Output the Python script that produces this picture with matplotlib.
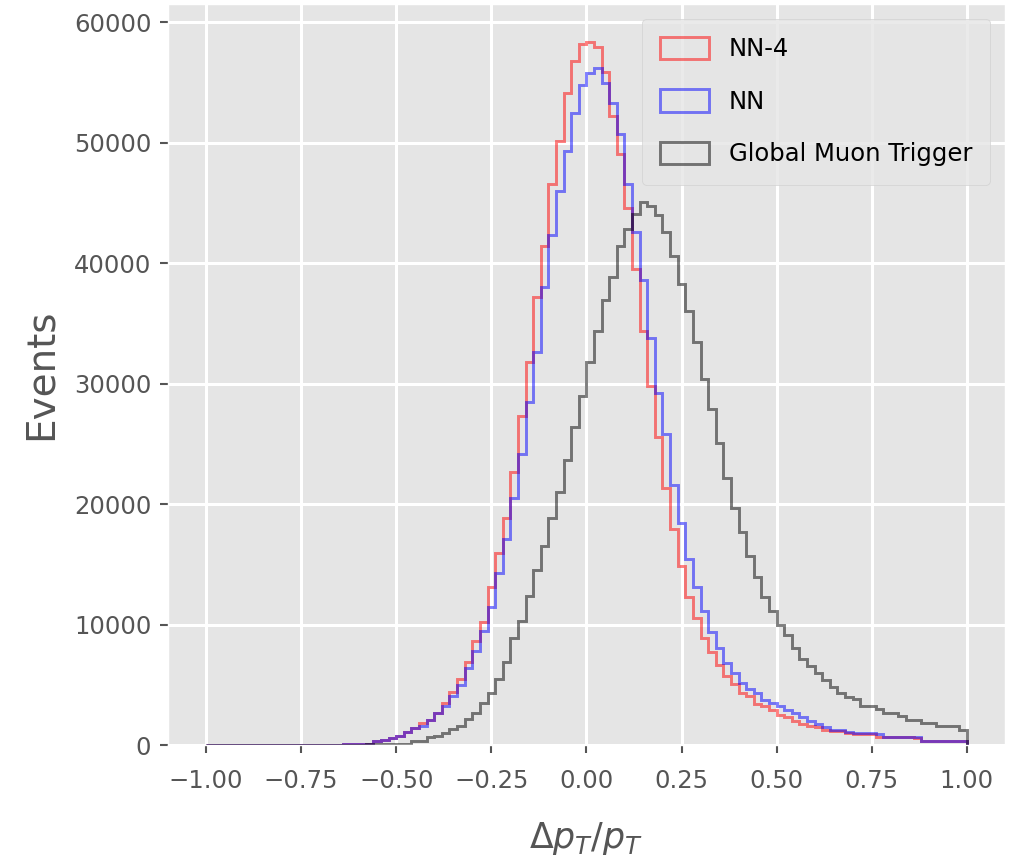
import numpy as np
import matplotlib
matplotlib.use("Agg")
import matplotlib.pyplot as plt

plt.style.use("ggplot")

# Bin edges of the histograms (100 bins from -1 to 1)
bin_lo, bin_hi, n_bins = -1.0, 1.0, 100

# Bin counts (bins 0..99)
nn4_counts = [
    0, 0, 0, 0, 0, 0, 0, 0, 0, 0,
    0, 0, 0, 0, 0, 0, 0, 40, 50, 60,
    80, 100, 330, 380, 620, 760, 1100, 1450, 1850, 2070,
    2630, 3510, 4430, 5450, 6920, 8630, 10250, 13120, 15920, 18870,
    22680, 27280, 31760, 37180, 41420, 46530, 50170, 54150, 56750, 58180,
    58330, 57960, 55870, 52220, 49050, 44600, 39480, 34340, 29800, 25600,
    21360, 17930, 14840, 12270, 10550, 8860, 7730, 6640, 5750, 5100,
    4320, 4030, 3440, 3250, 2920, 2530, 2300, 1990, 1740, 1550,
    1500, 1250, 1200, 1180, 970, 920, 910, 900, 690, 650,
    640, 640, 630, 620, 350, 350, 350, 350, 350, 350,
]
nn_counts = [
    0, 0, 0, 0, 0, 0, 0, 0, 0, 0,
    0, 0, 0, 0, 0, 0, 0, 40, 50, 60,
    80, 100, 330, 380, 620, 760, 1100, 1450, 1560, 2070,
    2630, 3240, 4070, 4980, 6370, 7830, 9500, 11440, 14280, 17090,
    20500, 24170, 28440, 32620, 38030, 42320, 45990, 49320, 52460, 54770,
    55810, 56170, 54980, 53290, 50740, 46550, 42570, 38590, 33770, 29230,
    25850, 21620, 18450, 15400, 13100, 11090, 9390, 8030, 6790, 5980,
    5150, 4620, 4320, 3760, 3450, 3200, 2920, 2630, 2350, 2020,
    1740, 1520, 1250, 1250, 1100, 970, 970, 970, 910, 640,
    640, 640, 640, 640, 350, 350, 350, 350, 350, 350,
]
gmt_counts = [
    0, 0, 0, 0, 0, 0, 0, 0, 0, 0,
    0, 0, 0, 0, 0, 0, 0, 0, 0, 0,
    40, 50, 60, 70, 80, 100, 120, 330, 360, 690,
    720, 970, 1300, 1580, 2130, 2680, 3450, 4350, 5510, 6880,
    8860, 10260, 12330, 14490, 16480, 18830, 21010, 23630, 26430, 28950,
    31780, 34330, 36900, 38860, 41410, 42830, 44040, 45050, 44770, 43950,
    42560, 40580, 38280, 36050, 33470, 30390, 27850, 25030, 22190, 19660,
    17650, 15680, 13950, 12290, 11120, 10000, 9150, 8020, 7110, 6580,
    6000, 5390, 4840, 4340, 4010, 3790, 3240, 3240, 2990, 2630,
    2630, 2410, 2070, 2070, 1800, 1800, 1580, 1580, 1580, 1250,
]

series_labels = ["NN-4", "NN", "Global Muon Trigger"]
series_colors = ["red", "blue", "black"]
x_ticks = [-1.00, -0.75, -0.50, -0.25, 0.00, 0.25, 0.50, 0.75, 1.00]
y_ticks = [0, 10000, 20000, 30000, 40000, 50000, 60000]

edges = np.linspace(bin_lo, bin_hi, n_bins + 1)
centers = 0.5 * (edges[:-1] + edges[1:])

fig = plt.figure(figsize=(10.15, 8.68), dpi=100)
ax = fig.add_axes([0.1655, 0.1417, 0.8245, 0.8537])

for counts, lab, col in zip([nn4_counts, nn_counts, gmt_counts], series_labels, series_colors):
    ax.hist(centers, bins=edges, weights=counts, histtype="step",
            color=col, alpha=0.5, linewidth=2.1, label=lab)

ax.set_xlim(-1.1, 1.1)
ax.set_ylim(0, 61500)
ax.set_xticks(x_ticks)
ax.set_xticklabels([f"{v:.2f}".replace("-", "\u2212") for v in x_ticks])
ax.set_yticks(y_ticks)
ax.set_yticklabels([str(v) for v in y_ticks])

ax.grid(True, color="white", linewidth=2.2)
ax.tick_params(axis="both", labelsize=17.5, colors="#555555", length=6, width=1.5)
ax.tick_params(axis="x", pad=11)
ax.tick_params(axis="y", pad=6)
ax.set_xlabel(r"$\Delta p_T/p_T$", fontsize=25, color="#555555", labelpad=20)
ax.set_ylabel("Events", fontsize=28, color="#555555", labelpad=10)

leg = ax.legend(loc="upper right", fontsize=17.5, borderaxespad=0.6,
                labelspacing=1.15, handleheight=1.05, handlelength=2.0,
                handletextpad=0.8, borderpad=0.75)

fig.savefig("out.png", dpi=100)
